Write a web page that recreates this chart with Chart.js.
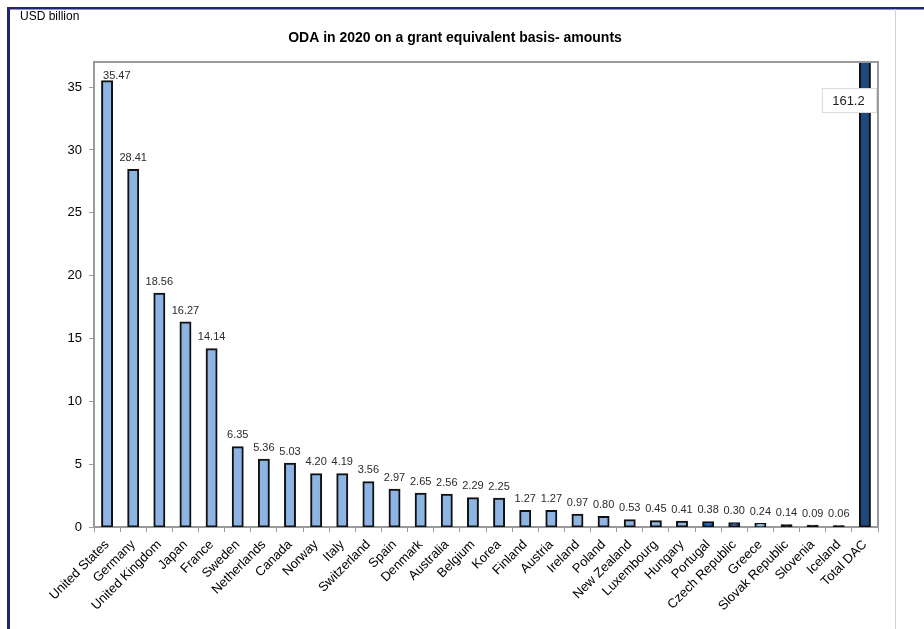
<!DOCTYPE html>
<html>
<head>
<meta charset="utf-8">
<title>ODA in 2020 on a grant equivalent basis</title>
<script src="https://cdn.jsdelivr.net/npm/chart.js@4/dist/chart.umd.min.js"></script>
<style>
  html, body { margin: 0; padding: 0; background: #ffffff; }
  #wrap { position: relative; width: 924px; height: 629px; }
  canvas { display: block; }
</style>
</head>
<body>
<div id="wrap"><canvas id="oda" width="924" height="629"></canvas></div>
<script>
// ODA 2020, grant equivalent basis, USD billion
const categories = [
  'United States', 'Germany', 'United Kingdom', 'Japan', 'France', 'Sweden',
  'Netherlands', 'Canada', 'Norway', 'Italy', 'Switzerland', 'Spain', 'Denmark',
  'Australia', 'Belgium', 'Korea', 'Finland', 'Austria', 'Ireland', 'Poland',
  'New Zealand', 'Luxembourg', 'Hungary', 'Portugal', 'Czech Republic', 'Greece',
  'Slovak Republic', 'Slovenia', 'Iceland', 'Total DAC'
];
const odaValues = [
  35.47, 28.41, 18.56, 16.27, 14.14, 6.35,
  5.36, 5.03, 4.20, 4.19, 3.56, 2.97, 2.65,
  2.56, 2.29, 2.25, 1.27, 1.27, 0.97, 0.80,
  0.53, 0.45, 0.41, 0.38, 0.30, 0.24,
  0.14, 0.09, 0.06, 161.2
];
const yTickValues = [0, 5, 10, 15, 20, 25, 30, 35];
const yAxisMax = 37;
const titleText = 'ODA in 2020 on a grant equivalent basis- amounts';
const unitText = 'USD billion';
const totalLabel = 'Total DAC';

// bar fills: light blue by default, a few highlighted members, navy total
const FONT = "'Liberation Sans', Arial, sans-serif";
const OUTLINE = '#111111';
const specialFill = {
  'Portugal': '#1565c0',
  'Czech Republic': '#1f497d',
  'Total DAC': '#1f497d'
};
// very short bars show only their outline
const barFill = (c) => {
  const i = c.dataIndex;
  if (specialFill[categories[i]]) return specialFill[categories[i]];
  const y = c.chart.scales.y;
  if (y && Math.abs(y.getPixelForValue(0) - y.getPixelForValue(odaValues[i])) < 2.5) return OUTLINE;
  return '#8db4e2';
};

const frameAndLabels = {
  id: 'frameAndLabels',
  beforeDraw(chart) {
    const ctx = chart.ctx;
    ctx.save();
    ctx.fillStyle = '#ffffff';
    ctx.fillRect(0, 0, chart.width, chart.height);
    // outer frame
    ctx.fillStyle = '#23237a';
    ctx.fillRect(7, 7, chart.width - 7, 2.5);
    ctx.fillRect(7, 7, 3, chart.height - 7);
    ctx.fillStyle = '#d0d0d0';
    ctx.fillRect(895, 9, 1, chart.height - 9);
    // unit and title
    ctx.fillStyle = '#000000';
    ctx.font = '12px ' + FONT;
    ctx.textAlign = 'left';
    ctx.textBaseline = 'middle';
    ctx.fillText(unitText, 20, 17);
    ctx.font = 'bold 14px ' + FONT;
    ctx.textAlign = 'center';
    ctx.fillText(titleText, 455, 38);
    ctx.restore();
  },
  afterDatasetsDraw(chart) {
    const ctx = chart.ctx;
    const area = chart.chartArea;
    const meta = chart.getDatasetMeta(0);
    ctx.save();
    // plot frame top and right
    ctx.strokeStyle = '#9a9a9a';
    ctx.lineWidth = 2;
    ctx.beginPath();
    ctx.moveTo(area.left, area.top);
    ctx.lineTo(area.right, area.top);
    ctx.lineTo(area.right, area.bottom);
    ctx.stroke();

    meta.data.forEach((bar, i) => {
      const v = odaValues[i];
      if (categories[i] === totalLabel) {
        // value box for the clipped total bar
        const bx = bar.x - 43, by = area.top + 26, bw = 55, bh = 25;
        ctx.fillStyle = '#ffffff';
        ctx.fillRect(bx, by, bw, bh);
        ctx.strokeStyle = '#dcdcdc';
        ctx.lineWidth = 1;
        ctx.strokeRect(bx + 0.5, by + 0.5, bw - 1, bh - 1);
        ctx.fillStyle = '#222222';
        ctx.font = '13px ' + FONT;
        ctx.textAlign = 'center';
        ctx.textBaseline = 'middle';
        ctx.fillText(v.toFixed(1), bx + bw / 2 - 1, by + bh / 2 + 0.5);
      } else {
        const minY = area.top + 14;
        const wanted = bar.y - 12;
        ctx.fillStyle = '#2a2a2a';
        ctx.font = '11px ' + FONT;
        ctx.textBaseline = 'middle';
        if (wanted < minY) {
          // no room above the bar: set the label beside the top of the bar
          ctx.textAlign = 'left';
          ctx.fillText(v.toFixed(2), bar.x - 4, minY);
        } else {
          ctx.textAlign = 'center';
          ctx.fillText(v.toFixed(2), bar.x, wanted);
        }
      }
    });
    ctx.restore();
  }
};

new Chart(document.getElementById('oda'), {
  type: 'bar',
  data: {
    labels: categories,
    datasets: [{
      data: odaValues,
      backgroundColor: barFill,
      borderColor: OUTLINE,
      borderWidth: 2,
      inflateAmount: 1,
      borderSkipped: false,
      barPercentage: 0.38,
      categoryPercentage: 1.0
    }]
  },
  options: {
    responsive: false,
    animation: false,
    devicePixelRatio: 1,
    layout: { padding: { left: 0, right: 46, top: 62, bottom: 0 } },
    plugins: {
      legend: { display: false },
      tooltip: { enabled: false },
      title: { display: false }
    },
    scales: {
      x: {
        grid: { display: true, drawOnChartArea: false, drawTicks: true, tickLength: 5, color: '#9a9a9a', offset: true },
        border: { display: true, color: '#9a9a9a', width: 2 },
        ticks: {
          autoSkip: false,
          maxRotation: 45,
          minRotation: 45,
          padding: 5,
          color: '#000000',
          font: { family: FONT, size: 13 }
        },
        afterFit(scale) { scale.height = 102; }
      },
      y: {
        min: 0,
        max: yAxisMax,
        grid: { display: true, drawOnChartArea: false, drawTicks: true, tickLength: 5, color: '#9a9a9a' },
        border: { display: true, color: '#9a9a9a', width: 2 },
        ticks: {
          padding: 7,
          color: '#000000',
          font: { family: FONT, size: 13 }
        },
        afterBuildTicks(scale) {
          scale.ticks = yTickValues.map(v => ({ value: v }));
        },
        afterFit(scale) { scale.width = 94; }
      }
    }
  },
  plugins: [frameAndLabels]
});
</script>
</body>
</html>
